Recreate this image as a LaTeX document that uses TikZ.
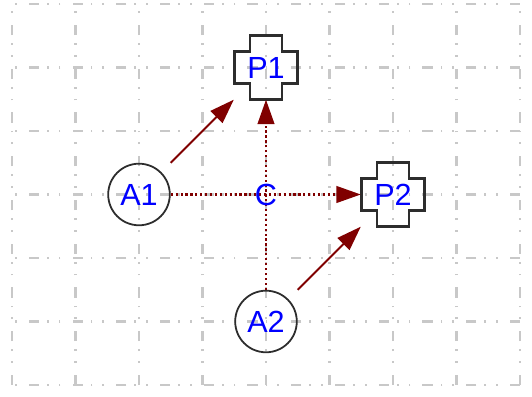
\documentclass[tikz,border=0pt]{standalone}
\usepackage{fontspec}
\setmainfont{Liberation Sans}
\usetikzlibrary{arrows.meta}
\definecolor{gridgray}{RGB}{200,200,200}
\definecolor{arrowred}{RGB}{128,0,0}
\definecolor{outline}{RGB}{45,45,45}
\definecolor{labelblue}{RGB}{0,0,255}
\begin{document}
\begin{tikzpicture}[
  gridline/.style={gridgray, line width=1pt,
    dash pattern=on 4.5pt off 5.4pt on 0.8pt off 4.5pt on 0.8pt off 3.6pt},
  lbl/.style={text=labelblue, font=\fontsize{13.7}{16}\selectfont},
  agent/.style={lbl, circle, draw=outline, line width=0.8pt,
    minimum size=0.97cm, inner sep=0pt},
  plusnode/.style={lbl, minimum size=1cm, inner sep=0pt},
  plusline/.style={outline, line width=1.2pt, line join=miter},
  flow/.style={arrowred, line width=0.9pt, -{Triangle[length=11pt,width=7.5pt]}},
  link/.style={flow, line width=1pt, dash pattern=on 1pt off 1.2pt},
]
\useasboundingbox (-0.189,-0.189) rectangle (8.189,6.063);

% background grid
\foreach \x in {0,...,8} \draw[gridline] (\x,0) -- (\x,6);
\foreach \y in {0,...,6} \draw[gridline] (8,\y) -- (0,\y);

% agents and places
\node[agent] (A1) at (2,3) {A1};
\node[agent] (A2) at (4,1) {A2};
\node[plusnode] (P1) at (4,5) {P1};
\node[plusnode] (P2) at (6,3) {P2};

% plus-shaped outline of the places
\foreach \n in {P1,P2}
  \draw[plusline, shift={(\n.center)}]
    (-0.25,0.5) -- (0.25,0.5) -- (0.25,0.25) -- (0.5,0.25) -- (0.5,-0.25)
    -- (0.25,-0.25) -- (0.25,-0.5) -- (-0.25,-0.5) -- (-0.25,-0.25)
    -- (-0.5,-0.25) -- (-0.5,0.25) -- (-0.25,0.25) -- cycle;

% connectors
\draw[flow] (A1.east |- A1.north) -- (P1.south west);
\draw[flow] (A2.east |- A2.north) -- (P2.south west);
\draw[link] (A1.east) -- (P2.west);
\draw[link] (A2.north) -- (P1.south);

% crossing label on top
\node[lbl] (C) at (4,3) {C};
\end{tikzpicture}
\end{document}
